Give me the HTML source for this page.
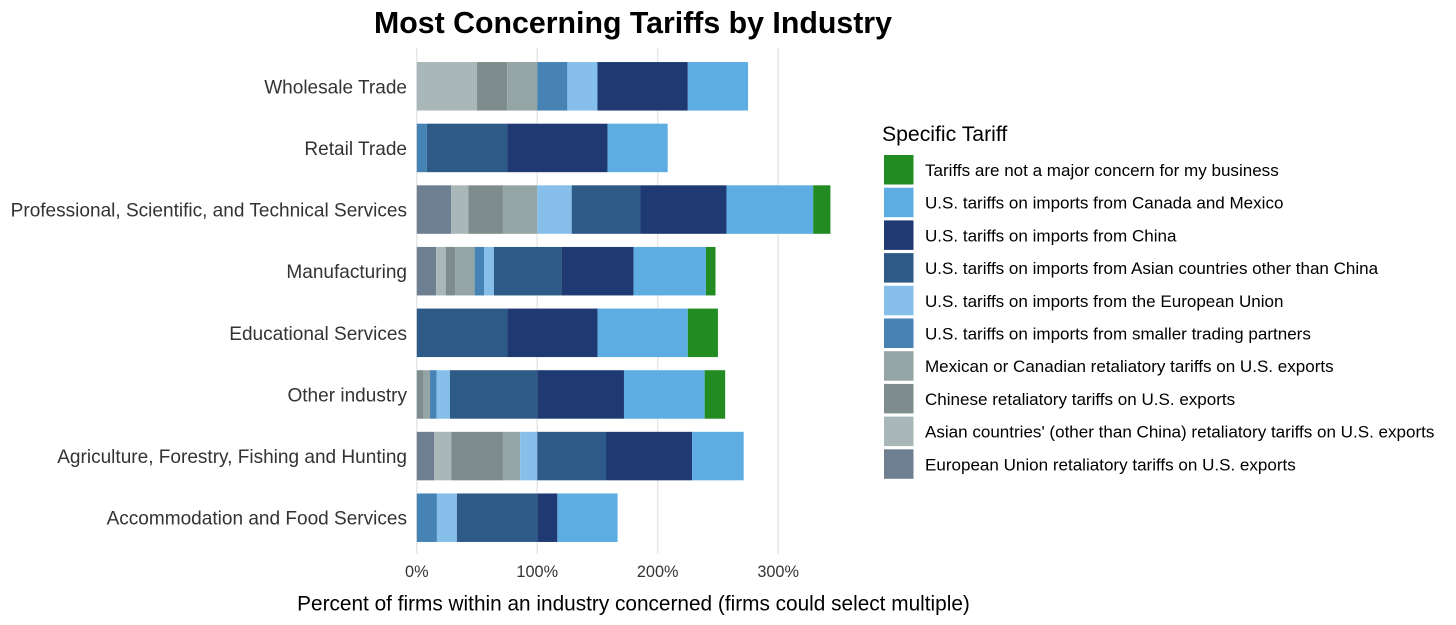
<!DOCTYPE html>
<html lang="en">
<head>
<meta charset="utf-8">
<title>Most Concerning Tariffs by Industry</title>
<style>
html,body{margin:0;padding:0;background:#fff;width:1456px;height:625px;overflow:hidden}
svg{display:block}
text{font-family:"Liberation Sans",Arial,sans-serif}
</style>
</head>
<body>
<svg id="chart" width="1456" height="625" viewBox="0 0 1456 625" xmlns="http://www.w3.org/2000/svg">
  <rect width="1456" height="625" fill="#ffffff"/>
  <text x="633" y="33" text-anchor="middle" font-size="30.3" font-weight="bold" fill="#000">Most Concerning Tariffs by Industry</text>
  <text x="633.5" y="610.5" text-anchor="middle" font-size="20.8" fill="#000">Percent of firms within an industry concerned (firms could select multiple)</text>
  <text x="882" y="141" font-size="21.2" fill="#000">Specific Tariff</text>
  <g id="grid"></g>
  <g id="bars"></g>
  <g id="ylabels"></g>
  <g id="xlabels"></g>
  <g id="legend"></g>
</svg>
<script>
const industries = ["Wholesale Trade","Retail Trade","Professional, Scientific, and Technical Services","Manufacturing","Educational Services","Other industry","Agriculture, Forestry, Fishing and Hunting","Accommodation and Food Services"];
const xTicks = [0,100,200,300];

// Stack order, left to right
const euRetaliatory     = [0,0,28.6,16,0,0,14.3,0];
const asianRetaliatory  = [50,0,14.3,8,0,0,14.3,0];
const chineseRetaliatory= [25,0,28.6,8,0,5.5,42.9,0];
const mexCanRetaliatory = [25,0,28.5,16,0,5.5,14.3,0];
const smallerPartners   = [25,8.3,0,8,0,5.5,0,16.7];
const euImports         = [25,0,28.6,8,0,11,14.2,16.6];
const asianImports      = [0,66.7,57.1,56,75,72.5,57.1,66.7];
const chinaImports      = [75,83.3,71.4,60,75,72,71.5,16.7];
const canMexImports     = [50,50,72,60,75,67,42.8,50];
const notConcern        = [0,0,14.3,8,25,17,0,0];

const seriesNames = ["European Union retaliatory tariffs on U.S. exports","Asian countries' (other than China) retaliatory tariffs on U.S. exports","Chinese retaliatory tariffs on U.S. exports","Mexican or Canadian retaliatory tariffs on U.S. exports","U.S. tariffs on imports from smaller trading partners","U.S. tariffs on imports from the European Union","U.S. tariffs on imports from Asian countries other than China","U.S. tariffs on imports from China","U.S. tariffs on imports from Canada and Mexico","Tariffs are not a major concern for my business"];
const seriesValues = [euRetaliatory,asianRetaliatory,chineseRetaliatory,mexCanRetaliatory,smallerPartners,euImports,asianImports,chinaImports,canMexImports,notConcern];
const seriesColors = ["#6F7F92","#AAB7B8","#7F8C8D","#95A5A6","#4682B4","#85BFEA","#2E5A87","#1F3A73","#5DADE2","#228B22"];

const NS = "http://www.w3.org/2000/svg";
const xScale = v => 416.8 + v * 1.2045;
const yCenter = i => 86.3 + i * 61.63;
const barHeight = 48.5;

function mk(tag, attrs, parent, txt){
  const el = document.createElementNS(NS, tag);
  for (const k in attrs) el.setAttribute(k, attrs[k]);
  if (txt !== undefined) el.textContent = txt;
  parent.appendChild(el);
  return el;
}

const gridG = document.getElementById("grid");
const barsG = document.getElementById("bars");
const yG = document.getElementById("ylabels");
const xG = document.getElementById("xlabels");
const legG = document.getElementById("legend");

xTicks.forEach(t => {
  const line = mk("line",{x1:xScale(t),x2:xScale(t),y1:48,y2:554,stroke:"#e8e8e8","stroke-width":1.6},gridG);
  
  
  const lab = mk("text",{x:xScale(t),y:577,"text-anchor":"middle","font-size":16.3,fill:"#333"},xG,t+"%");
  
  
});

industries.forEach((name,i) => {
  const lab = mk("text",{x:407,y:yCenter(i)+7,"text-anchor":"end","font-size":19.05,fill:"#333"},yG,name);
  
  
  let cum = 0;
  seriesValues.forEach((vals,s) => {
    const v = vals[i];
    if (v > 0) {
      const r = mk("rect",{x:xScale(cum),y:yCenter(i)-barHeight/2,width:xScale(cum+v)-xScale(cum),height:barHeight,fill:seriesColors[s]},barsG);
      
      
    }
    cum += v;
  });
});

// Legend lists series in reverse stack order
for (let k = 0; k < seriesNames.length; k++) {
  const s = seriesNames.length - 1 - k;
  const top = 155 + k * 32.7;
  const sw = mk("rect",{x:884,y:top,width:29.5,height:29.5,fill:seriesColors[s]},legG);
  
  
  const t = mk("text",{x:925,y:top+21,"font-size":17.05,fill:"#000"},legG,seriesNames[s]);
  
  
}
</script>
</body>
</html>
